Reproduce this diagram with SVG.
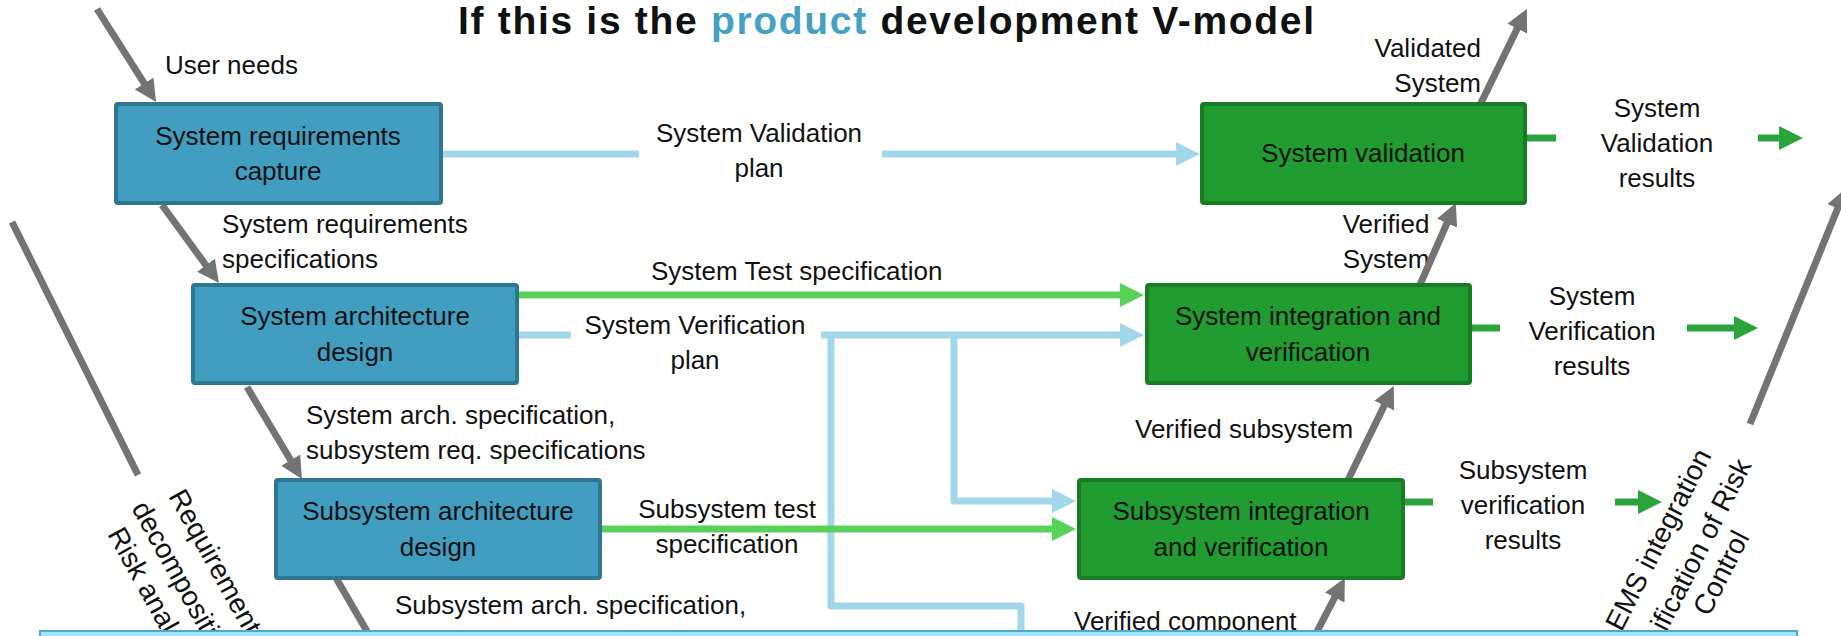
<svg xmlns="http://www.w3.org/2000/svg" width="1841" height="636" viewBox="0 0 1841 636">
<style>
text{font-family:"Liberation Sans",Arial,sans-serif;fill:#111}
.lb{font-size:26px}
.nt{font-size:26px;text-anchor:middle}
.c{text-anchor:middle}
.e{text-anchor:end}
.rt{font-size:28px}
.bn{fill:#419ec0;stroke:#2f7691;stroke-width:4}
.gn{fill:#209c30;stroke:#177c24;stroke-width:4}
.g{stroke:#737373;stroke-width:7;fill:none}
.lbl{stroke:#a2d7ea;stroke-width:7;fill:none;stroke-linejoin:round}
.grn{stroke:#58d158;stroke-width:7;fill:none}
.dg{stroke:#2aa33a;stroke-width:7;fill:none}
</style>
<defs>
<marker id="mg" markerUnits="userSpaceOnUse" markerWidth="22" markerHeight="22" viewBox="0 0 22 22" refX="8" refY="11" orient="auto"><path d="M0,0L22,11L0,22z" fill="#737373"/></marker>
<marker id="mb" markerUnits="userSpaceOnUse" markerWidth="24" markerHeight="24" viewBox="0 0 24 24" refX="10" refY="12" orient="auto"><path d="M0,0L24,12L0,24z" fill="#a2d7ea"/></marker>
<marker id="mgr" markerUnits="userSpaceOnUse" markerWidth="24" markerHeight="24" viewBox="0 0 24 24" refX="10" refY="12" orient="auto"><path d="M0,0L24,12L0,24z" fill="#58d158"/></marker>
<marker id="mdg" markerUnits="userSpaceOnUse" markerWidth="24" markerHeight="24" viewBox="0 0 24 24" refX="10" refY="12" orient="auto"><path d="M0,0L24,12L0,24z" fill="#2aa33a"/></marker>
</defs>
<rect width="1841" height="636" fill="#fff"/>

<text x="886" y="34" font-size="39" font-weight="bold" text-anchor="middle" textLength="856" lengthAdjust="spacing">If this is the <tspan fill="#45a1c4">product</tspan> development V-model</text>

<g id="labels">
<text class="lb" x="165" y="74">User needs</text>
<text class="lb" x="222" y="233">System requirements</text>
<text class="lb" x="222" y="268">specifications</text>
<text class="lb" x="306" y="424">System arch. specification,</text>
<text class="lb" x="306" y="459">subsystem req. specifications</text>
<text class="lb" x="395" y="614">Subsystem arch. specification,</text>
<text class="lb c" x="759" y="142">System Validation</text>
<text class="lb c" x="759" y="177">plan</text>
<text class="lb" x="651" y="280">System Test specification</text>
<text class="lb c" x="695" y="334">System Verification</text>
<text class="lb c" x="695" y="369">plan</text>
<text class="lb c" x="727" y="518">Subsystem test</text>
<text class="lb c" x="727" y="553">specification</text>
<text class="lb" x="1074" y="630">Verified component</text>
<text class="lb" x="1135" y="438">Verified subsystem</text>
<text class="lb c" x="1386" y="233">Verified</text>
<text class="lb c" x="1386" y="268">System</text>
<text class="lb e" x="1481" y="57">Validated</text>
<text class="lb e" x="1481" y="92">System</text>
<text class="lb c" x="1657" y="117">System</text>
<text class="lb c" x="1657" y="152">Validation</text>
<text class="lb c" x="1657" y="187">results</text>
<text class="lb c" x="1592" y="305">System</text>
<text class="lb c" x="1592" y="340">Verification</text>
<text class="lb c" x="1592" y="375">results</text>
<text class="lb c" x="1523" y="479">Subsystem</text>
<text class="lb c" x="1523" y="514">verification</text>
<text class="lb c" x="1523" y="549">results</text>
<text class="rt" transform="translate(168,496) rotate(61)">Requirement</text>
<text class="rt" transform="translate(131,508) rotate(61)">decompositi</text>
<text class="rt" transform="translate(107,534) rotate(61)">Risk anal</text>
<text class="rt e" transform="translate(1712,455) rotate(-63)">EMS integration</text>
<text class="rt e" transform="translate(1752,465) rotate(-63)">ification of Risk</text>
<text class="rt e" transform="translate(1750,537) rotate(-63)">Control</text>
</g>

<g id="connectors">
<path class="lbl" d="M443,154H639"/>
<path class="lbl" d="M882,154H1186" marker-end="url(#mb)"/>
<path class="lbl" d="M519,335H571"/>
<path class="lbl" d="M821,335H1130" marker-end="url(#mb)"/>
<path class="lbl" d="M831,335V606H1021V645"/>
<path class="lbl" d="M954,335V501H1062" marker-end="url(#mb)"/>
<path class="grn" d="M519,295H1130" marker-end="url(#mgr)"/>
<path class="grn" d="M602,529H1062" marker-end="url(#mgr)"/>
<path class="dg" d="M1527,138H1556"/>
<path class="dg" d="M1758,138H1789" marker-end="url(#mdg)"/>
<path class="dg" d="M1472,328H1500"/>
<path class="dg" d="M1687,328H1744" marker-end="url(#mdg)"/>
<path class="dg" d="M1405,502H1433"/>
<path class="dg" d="M1615,502H1648" marker-end="url(#mdg)"/>
<path class="g" d="M97,9L148.5,90.2" marker-end="url(#mg)"/>
<path class="g" d="M162,205L210.7,271.7" marker-end="url(#mg)"/>
<path class="g" d="M247,387L294.8,467" marker-end="url(#mg)"/>
<path class="g" d="M336,578L375,645"/>
<path class="g" d="M12,222L138,475"/>
<path class="g" d="M1310,645L1338.4,590.4" marker-end="url(#mg)"/>
<path class="g" d="M1347,482L1387.7,398.5" marker-end="url(#mg)"/>
<path class="g" d="M1419,287L1450.2,215.8" marker-end="url(#mg)"/>
<path class="g" d="M1480,105L1520.7,21.5" marker-end="url(#mg)"/>
<path class="g" d="M1750,424L1840.7,201" marker-end="url(#mg)"/>
</g>

<g id="n-sysreq"><rect class="bn" x="116" y="104" width="325" height="99" rx="2"/><text class="nt" x="278" y="145">System requirements</text><text class="nt" x="278" y="180">capture</text></g>
<g id="n-sysarch"><rect class="bn" x="193" y="285" width="324" height="98" rx="2"/><text class="nt" x="355" y="325">System architecture</text><text class="nt" x="355" y="361">design</text></g>
<g id="n-subarch"><rect class="bn" x="276" y="480" width="324" height="98" rx="2"/><text class="nt" x="438" y="520">Subsystem architecture</text><text class="nt" x="438" y="556">design</text></g>
<g id="n-sysval"><rect class="gn" x="1202" y="104" width="323" height="99" rx="2"/><text class="nt" x="1363" y="162">System validation</text></g>
<g id="n-sysint"><rect class="gn" x="1147" y="285" width="323" height="98" rx="2"/><text class="nt" x="1308" y="325">System integration and</text><text class="nt" x="1308" y="361">verification</text></g>
<g id="n-subint"><rect class="gn" x="1079" y="480" width="324" height="98" rx="2"/><text class="nt" x="1241" y="520">Subsystem integration</text><text class="nt" x="1241" y="556">and verification</text></g>

<rect id="band" x="40" y="631" width="1757" height="20" fill="#a7e3f6" stroke="#4fa9cf" stroke-width="2"/>
</svg>
